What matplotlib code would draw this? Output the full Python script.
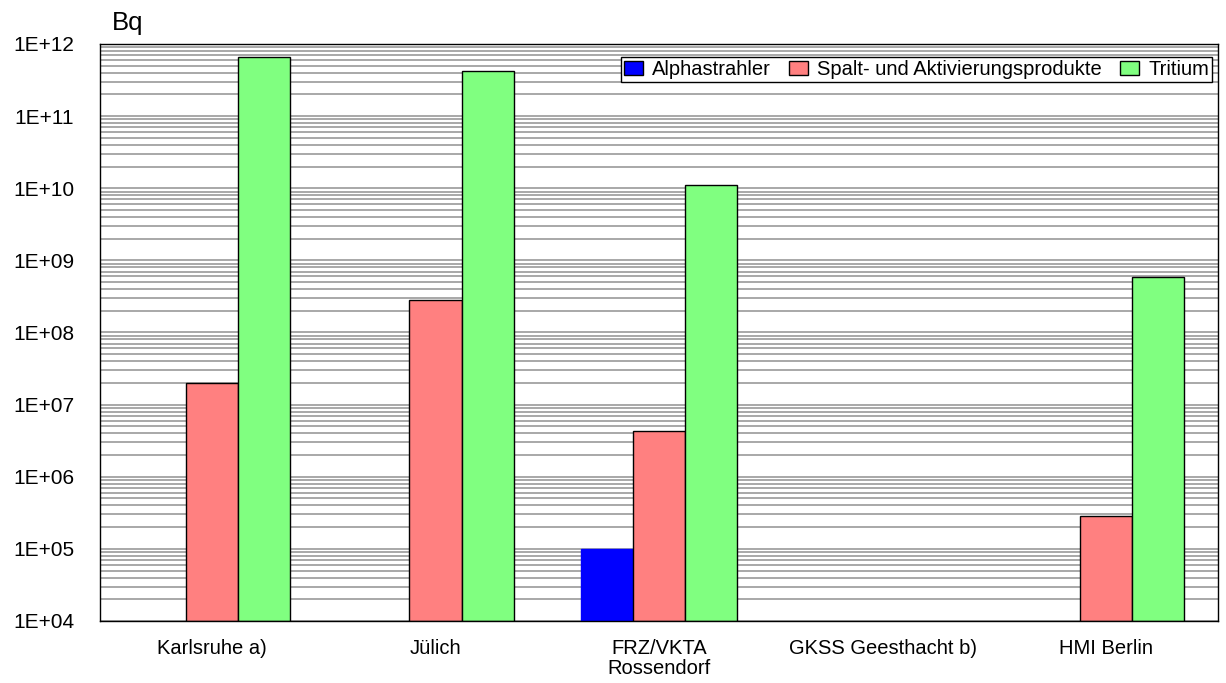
import matplotlib
matplotlib.use("Agg")
from matplotlib import pyplot as plt
from matplotlib.ticker import LogLocator, FixedLocator
import numpy as np

plt.rcParams['font.family'] = ['Liberation Sans', 'DejaVu Sans']

# Data (Bq)
sites = ["Karlsruhe a)", "Jülich", "FRZ/VKTA\nRossendorf", "GKSS Geesthacht b)", "HMI Berlin"]
alpha = [np.nan, np.nan, 1.0e5, np.nan, np.nan]
spalt = [2.0e7, 2.8e8, 4.3e6, np.nan, 2.9e5]
tritium = [6.6e11, 4.2e11, 1.1e10, np.nan, 5.8e8]

series = [
    ("Alphastrahler", alpha, "#0000ff"),
    ("Spalt- und Aktivierungsprodukte", spalt, "#ff8080"),
    ("Tritium", tritium, "#80ff80"),
]

fig = plt.figure(figsize=(12.26, 6.83), dpi=100)
ax = fig.add_axes([0.0816, 0.0908, 0.912, 0.8448])

x = np.arange(len(sites))
w = 0.233
bottom = 1e4

for i, (name, vals, col) in enumerate(series):
    vals = np.array(vals)
    heights = vals - bottom
    ax.bar(x + (i - 1) * w, heights, w, bottom=bottom, color=col,
           edgecolor="black" if i > 0 else col, linewidth=1.0, label=name, zorder=3)

ax.set_yscale("log")
ax.set_ylim(1e4, 1e12)
ax.set_xlim(-0.5, len(sites) - 0.5)

ax.yaxis.set_major_locator(FixedLocator([10.0 ** k for k in range(4, 13)]))
ax.yaxis.set_minor_locator(LogLocator(base=10, subs=np.arange(2, 10), numticks=20))
ax.set_yticklabels(["1E+%02d" % k for k in range(4, 13)])
ax.yaxis.set_minor_formatter(plt.NullFormatter())
ax.grid(True, which="both", axis="y", color="#999999", linewidth=1.2, zorder=0)
ax.tick_params(axis="y", which="both", length=0, labelsize=15, pad=18.5)

ax.set_xticks(x)
ax.set_xticklabels(sites, fontsize=14.5, linespacing=1.05)
ax.tick_params(axis="x", length=0, pad=13)

for s in ax.spines.values():
    s.set_linewidth(1.0)
    s.set_zorder(4)

fig.text(0.0914, 0.956, "Bq", fontsize=18.5, va="baseline")

leg = ax.legend(loc="upper right", ncol=3, fontsize=14.5, frameon=True, fancybox=False,
                edgecolor="black", framealpha=1, borderpad=0.15, handlelength=0.95,
                handleheight=0.65, handletextpad=0.45, columnspacing=0.9,
                borderaxespad=0, bbox_to_anchor=(0.9886, 0.9165),
                bbox_transform=fig.transFigure)
leg.get_frame().set_linewidth(1.0)
for h in leg.legend_handles:
    h.set_edgecolor("black")

fig.savefig("out.png", dpi=100)
